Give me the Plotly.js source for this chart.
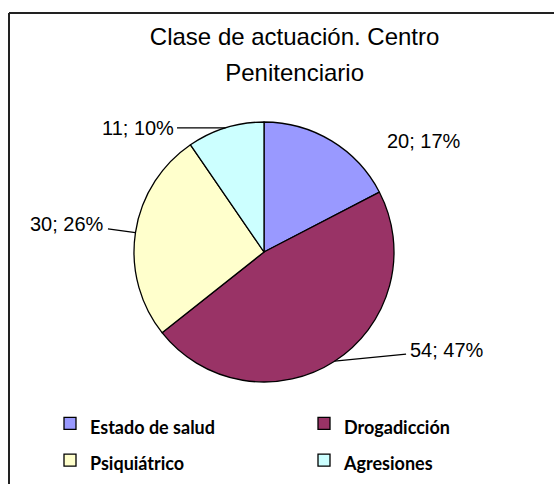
<!DOCTYPE html>
<html>
<head>
<meta charset="utf-8">
<script src="https://cdn.plot.ly/plotly-3.0.1.min.js"></script>
<style>html,body{margin:0;padding:0;background:#fff}#chart{width:558px;height:484px}</style>
</head>
<body>
<div id="chart"></div>
<script>
// Data
const categories = ['Estado de salud', 'Drogadicción', 'Psiquiátrico', 'Agresiones'];
const values = [20, 54, 30, 11];
const sliceColors = ['#9999FF', '#993366', '#FFFFCC', '#CCFFFF'];
const titleLines = ['Clase de actuación. Centro', 'Penitenciario'];

// Label leader offsets in pixels (style)
const labelOffsetX = [92, 112, -68, -88];
const labelOffsetY = [0, -11, -9, 0];
const showLeader = [false, true, true, true];

const W = 558, H = 484;
const cxPx = 264, cyPx = 252, rPx = 130;
const domX = [(cxPx - rPx) / W, (cxPx + rPx) / W];
const domY = [1 - (cyPx + rPx) / H, 1 - (cyPx - rPx) / H];

const total = values.reduce((a, b) => a + b, 0);
const annotations = [];
let cum = 0;
values.forEach((v, i) => {
  const mid = (cum + v / 2) / total * 2 * Math.PI;
  cum += v;
  const x = (domX[0] + domX[1]) / 2 + (rPx / W) * Math.sin(mid);
  const y = (domY[0] + domY[1]) / 2 + (rPx / H) * Math.cos(mid);
  annotations.push({
    xref: 'paper', yref: 'paper', x: x, y: y,
    text: v + '; ' + Math.round(v / total * 100) + '%',
    showarrow: true, arrowhead: 0, arrowwidth: 1.3,
    arrowcolor: showLeader[i] ? '#000' : 'rgba(0,0,0,0)',
    ax: labelOffsetX[i], ay: labelOffsetY[i],
    standoff: 0, startstandoff: 2,
    font: {family: 'Liberation Sans, Arial, sans-serif', size: 20, color: '#000'}
  });
});

const legendLabels = categories.map(c => '<span style="font-size:18px">' + c + '</span>');
const titleText = titleLines.map(t => '<span style="font-size:24px">' + t + '</span>').join('<br>');

const trace = {
  type: 'pie',
  labels: legendLabels,
  values: values,
  sort: false,
  direction: 'clockwise',
  rotation: 0,
  textinfo: 'none',
  hoverinfo: 'none',
  domain: {x: domX, y: domY},
  marker: {colors: sliceColors, line: {color: '#000', width: 1.3}}
};

const layout = {
  width: W, height: H,
  margin: {l: 0, r: 0, t: 0, b: 0},
  paper_bgcolor: '#fff',
  showlegend: true,
  title: {
    text: titleText,
    font: {family: 'Liberation Sans, Arial, sans-serif', size: 28, color: '#000'},
    x: 0.528, xanchor: 'center', xref: 'paper',
    y: 1 - 45 / H, yanchor: 'top', yref: 'container'
  },
  legend: {
    orientation: 'h',
    x: 64 / W, xanchor: 'left',
    y: 0, yanchor: 'bottom',
    entrywidth: 209,
    font: {family: 'Lato, Open Sans, sans-serif', size: 26, color: '#000', weight: 'bold'},
    bgcolor: 'rgba(0,0,0,0)'
  },
  annotations: annotations,
  shapes: [
    {type: 'line', xref: 'paper', yref: 'paper', x0: 9 / W, x1: 554 / W, y0: 1 - 13 / H, y1: 1 - 13 / H, line: {color: '#222', width: 2}},
    {type: 'line', xref: 'paper', yref: 'paper', x0: 9 / W, x1: 9 / W, y0: 1 - 13 / H, y1: -0.05, line: {color: '#222', width: 2}}
  ]
};

Plotly.newPlot('chart', [trace], layout, {displayModeBar: false, staticPlot: true});
</script>
</body>
</html>
